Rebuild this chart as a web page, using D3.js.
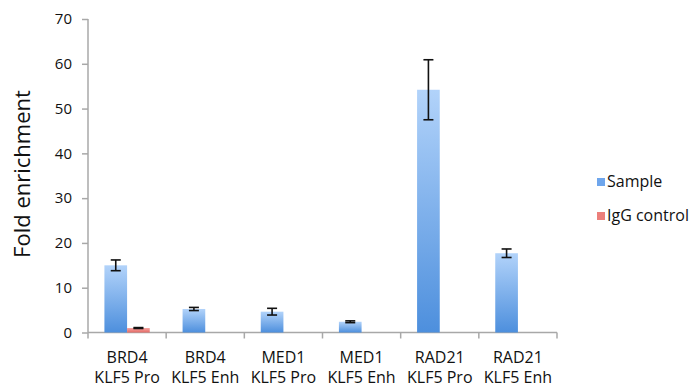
<!DOCTYPE html>
<html>
<head>
<meta charset="utf-8">
<script src="https://cdn.jsdelivr.net/npm/d3@7/dist/d3.min.js"></script>
<style>
  html, body { margin: 0; padding: 0; background: #fff; }
  svg { display: block; font-family: "Open Sans", sans-serif; }
</style>
</head>
<body>
<svg id="chart" width="691" height="387"></svg>
<script>
// ChIP-qPCR fold enrichment at KLF5 promoter / enhancer
const categories = [
  ["BRD4", "KLF5 Pro"],
  ["BRD4", "KLF5 Enh"],
  ["MED1", "KLF5 Pro"],
  ["MED1", "KLF5 Enh"],
  ["RAD21", "KLF5 Pro"],
  ["RAD21", "KLF5 Enh"]
];
const seriesNames = ["Sample", "IgG control"];
const sampleValues = [15.0, 5.25, 4.65, 2.4, 54.2, 17.7];
const sampleErrors = [1.2, 0.35, 0.75, 0.2, 6.7, 0.95];
const iggValues = [1.0, null, null, null, null, null];
const iggErrors = [0.1, null, null, null, null, null];
const yTicks = [0, 10, 20, 30, 40, 50, 60, 70];

const svg = d3.select("#chart");
const plotLeft = 88, plotRight = 557, plotTop = 19, plotBottom = 332.5;

const catKeys = categories.map(c => c.join(" "));
const x0 = d3.scaleBand().domain(catKeys).range([plotLeft, plotRight])
  .paddingInner(0.42).paddingOuter(0.21);
const x1 = d3.scaleBand().domain(seriesNames).range([0, x0.bandwidth()]).padding(0);
const y = d3.scaleLinear().domain([0, 70]).range([plotBottom, plotTop]);

// gradients for the bar fills
const defs = svg.append("defs");
function grad(id, c1, c2) {
  const g = defs.append("linearGradient").attr("id", id)
    .attr("x1", 0).attr("y1", 0).attr("x2", 0).attr("y2", 1);
  g.append("stop").attr("offset", "0%").attr("stop-color", c1);
  g.append("stop").attr("offset", "100%").attr("stop-color", c2);
}
grad("gSample", "#b2d3fa", "#4d8fdd");
grad("gIgg", "#f5a3a0", "#e46a66");
const fills = { "Sample": "url(#gSample)", "IgG control": "url(#gIgg)" };
const swatch = { "Sample": "#6fa6ec", "IgG control": "#ec7f7b" };

// y axis
const yAxis = d3.axisLeft(y).tickValues(yTicks).tickSize(6).tickPadding(10);
const gy = svg.append("g").attr("transform", `translate(${plotLeft},0)`).call(yAxis);
gy.select(".domain").attr("stroke", "#a8a8a8").attr("stroke-width", 1.5)
  .attr("d", `M0,${plotTop}V${plotBottom}`);
gy.selectAll(".tick line").attr("stroke", "#a8a8a8").attr("stroke-width", 1.5);
gy.selectAll(".tick text").attr("font-size", 15).attr("fill", "#111")
  .attr("font-family", "Open Sans, sans-serif");

// x axis with boundary ticks
svg.append("line").attr("x1", plotLeft).attr("x2", plotRight)
  .attr("y1", plotBottom).attr("y2", plotBottom)
  .attr("stroke", "#a8a8a8").attr("stroke-width", 1.5);
const step = x0.step();
const bounds = d3.range(categories.length + 1).map(i => plotLeft + i * step);
svg.selectAll(".xtick").data(bounds).join("line")
  .attr("x1", d => d).attr("x2", d => d).attr("y1", plotBottom).attr("y2", plotBottom + 6)
  .attr("stroke", "#a8a8a8").attr("stroke-width", 1.5);

// category labels
const cx = i => x0(catKeys[i]) + x0.bandwidth() / 2;
const labels = svg.append("g").selectAll("text").data(categories).join("text")
  .attr("text-anchor", "middle").attr("font-size", 16).attr("fill", "#111");
labels.append("tspan").attr("x", (d, i) => cx(i)).attr("y", 363).text(d => d[0]);
labels.append("tspan").attr("x", (d, i) => cx(i)).attr("y", 383).text(d => d[1]);

// bars
const rows = [];
catKeys.forEach((k, i) => {
  rows.push({ cat: k, s: "Sample", v: sampleValues[i], e: sampleErrors[i] });
  if (iggValues[i] != null) rows.push({ cat: k, s: "IgG control", v: iggValues[i], e: iggErrors[i] });
});
svg.append("g").selectAll("rect").data(rows).join("rect")
  .attr("x", d => x0(d.cat) + x1(d.s))
  .attr("width", x1.bandwidth())
  .attr("y", d => y(d.v))
  .attr("height", d => y(0) - y(d.v))
  .attr("fill", d => fills[d.s]);

// error bars
const eb = svg.append("g").attr("stroke", "#111").attr("stroke-width", 1.6);
rows.forEach(d => {
  const mx = x0(d.cat) + x1(d.s) + x1.bandwidth() / 2;
  const y1 = y(d.v + d.e), y2 = y(d.v - d.e);
  eb.append("line").attr("x1", mx).attr("x2", mx).attr("y1", y1).attr("y2", y2);
  eb.append("line").attr("x1", mx - 5).attr("x2", mx + 5).attr("y1", y1).attr("y2", y1);
  eb.append("line").attr("x1", mx - 5).attr("x2", mx + 5).attr("y1", y2).attr("y2", y2);
});

// y axis title
svg.append("text").attr("transform", "translate(30,174) rotate(-90)")
  .attr("text-anchor", "middle").attr("font-size", 22).attr("fill", "#111")
  .text("Fold enrichment");

// legend
const lg = svg.append("g").selectAll("g").data(seriesNames).join("g")
  .attr("transform", (d, i) => `translate(597,${178 + i * 34})`);
lg.append("rect").attr("width", 8).attr("height", 8).attr("fill", d => swatch[d]);
lg.append("text").attr("x", 10).attr("y", 9).attr("font-size", 16).attr("fill", "#111")
  .text(d => d);
</script>
</body>
</html>
